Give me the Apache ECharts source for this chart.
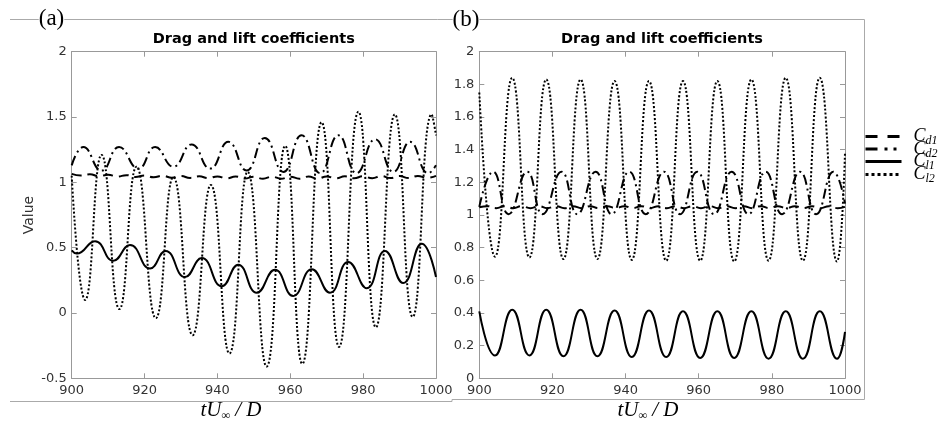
<!DOCTYPE html>
<html><head><meta charset="utf-8">
<script src="https://cdn.jsdelivr.net/npm/echarts@6/dist/echarts.min.js"></script>
<style>html,body{margin:0;padding:0;background:#fff}#c{width:939px;height:421px}</style>
</head><body><div id="c"></div>
<script>
// ---------- data ----------
const seriesNames = ['Cd1', 'Cd2', 'Cl1', 'Cl2'];
const xTicks = [900, 920, 940, 960, 980, 1000];

// panel (a)
const aCd1T = [900, 902.5, 905, 907.5, 910, 912.5, 915, 917.5, 920, 922.5, 925, 927.5, 930, 932.5, 935, 937.5, 940, 942.5, 945, 947.5, 950, 952.5, 955, 957.5, 960, 962.5, 965, 967.5, 970, 972.5, 975, 977.5, 980, 982.5, 985, 987.5, 990, 992.5, 995, 997.5, 1000];
const aCd1V = [1.065, 1.052, 1.062, 1.047, 1.058, 1.044, 1.055, 1.041, 1.052, 1.039, 1.05, 1.036, 1.048, 1.034, 1.046, 1.032, 1.045, 1.03, 1.044, 1.029, 1.043, 1.028, 1.043, 1.028, 1.043, 1.028, 1.044, 1.029, 1.045, 1.03, 1.046, 1.031, 1.047, 1.032, 1.048, 1.033, 1.048, 1.033, 1.049, 1.034, 1.049];
const aCd2T = [900, 903.2, 908.2, 913.0, 918.3, 922.9, 927.9, 932.9, 938.0, 943.0, 948.0, 953.0, 958.1, 963.1, 968.2, 973.2, 978.2, 983.3, 988.3, 992.9, 997.9, 1000];
const aCd2V = [1.13, 1.27, 1.09, 1.27, 1.105, 1.27, 1.12, 1.29, 1.105, 1.31, 1.09, 1.34, 1.08, 1.36, 1.07, 1.36, 1.07, 1.33, 1.08, 1.31, 1.07, 1.13];
const aCl1T = [900, 901.4, 906.4, 911.4, 916.0, 921.5, 925.8, 931.1, 935.7, 941.2, 945.7, 950.8, 955.8, 960.8, 965.9, 970.9, 975.9, 981.0, 986.0, 991.0, 996.1, 1000];
const aCl1V = [0.48, 0.455, 0.55, 0.40, 0.52, 0.34, 0.475, 0.275, 0.42, 0.205, 0.37, 0.155, 0.33, 0.13, 0.335, 0.155, 0.39, 0.19, 0.475, 0.23, 0.53, 0.275];
const aCl2T = [900, 903.7, 908.2, 913.1, 917.8, 923.1, 927.9, 933.2, 938.2, 943.3, 948.3, 953.5, 958.6, 963.3, 968.6, 973.4, 978.7, 983.5, 988.7, 993.6, 998.8, 1000];
const aCl2V = [1.05, 0.10, 1.21, 0.03, 1.12, -0.04, 1.04, -0.17, 0.98, -0.31, 1.08, -0.41, 1.28, -0.39, 1.46, -0.26, 1.54, -0.11, 1.52, -0.03, 1.52, 1.36];

// panel (b)
const bCd1T = [900, 902.3, 904.6, 907.0, 909.3, 911.6, 914.0, 916.3, 918.6, 921.0, 923.3, 925.6, 928.0, 930.3, 932.6, 935.0, 937.3, 939.6, 942.0, 944.3, 946.6, 949.0, 951.3, 953.6, 956.0, 958.3, 960.6, 963.0, 965.3, 967.6, 970.0, 972.3, 974.6, 977.0, 979.3, 981.6, 984.0, 986.3, 988.6, 991.0, 993.3, 995.6, 998.0, 1000];
const bCd1V = [1.048, 1.054, 1.042, 1.054, 1.042, 1.054, 1.042, 1.054, 1.042, 1.054, 1.042, 1.054, 1.042, 1.054, 1.042, 1.054, 1.042, 1.054, 1.042, 1.054, 1.042, 1.054, 1.042, 1.054, 1.042, 1.054, 1.042, 1.054, 1.042, 1.054, 1.042, 1.054, 1.042, 1.054, 1.042, 1.054, 1.042, 1.054, 1.042, 1.054, 1.042, 1.054, 1.042, 1.05];
const bCd2T = [900, 903.8, 908.0, 913.1, 917.3, 922.5, 926.8, 931.8, 936.2, 941.0, 945.5, 950.5, 954.9, 959.6, 964.2, 969.0, 973.6, 978.3, 982.8, 987.7, 992.1, 996.8, 1000];
const bCd2V = [1.05, 1.265, 1.005, 1.265, 1.005, 1.265, 1.005, 1.265, 1.005, 1.265, 1.005, 1.265, 1.005, 1.265, 1.005, 1.265, 1.005, 1.265, 1.005, 1.265, 1.005, 1.265, 1.07];
const bClT  = [900, 904.3, 909.0, 913.7, 918.3, 923.0, 927.7, 932.3, 937.0, 941.7, 946.4, 951.1, 955.7, 960.4, 965.1, 969.7, 974.4, 979.1, 983.8, 988.5, 993.1, 997.8, 1000];
const bCl1V = [0.41, 0.14, 0.42, 0.14, 0.42, 0.135, 0.42, 0.135, 0.415, 0.13, 0.415, 0.13, 0.41, 0.125, 0.41, 0.125, 0.41, 0.12, 0.41, 0.12, 0.41, 0.12, 0.285];
const bCl2V = [1.75, 0.745, 1.84, 0.74, 1.83, 0.73, 1.83, 0.73, 1.82, 0.725, 1.82, 0.72, 1.82, 0.72, 1.82, 0.715, 1.83, 0.72, 1.84, 0.72, 1.84, 0.715, 1.38];

// ---------- styles ----------
const zip = (t, v) => t.map((x, i) => [x, v[i]]);
const dashFor = {Cd1: [10, 6], Cd2: [10, 4, 2, 4], Cl1: 'solid', Cl2: [2, 2]};
const legendDash = {Cd1: [12, 10], Cd2: [12, 7, 3, 6, 3, 6], Cl1: 'solid', Cl2: [3, 3]};
const legendY = [134, 146.5, 159, 172];
const AX = '#999', LBL = '#333', FONT = 'DejaVu Sans';

function xAx(g, pos) {
  return {
    gridIndex: g, type: 'value', position: pos, min: 900, max: 1000, interval: 20,
    axisLine: {show: true, onZero: false, lineStyle: {color: AX, width: 1}},
    axisTick: {show: true, inside: true, length: 5, lineStyle: {color: AX}},
    axisLabel: {show: pos === 'bottom', margin: 6, fontSize: 13, color: LBL, fontFamily: FONT, formatter: v => String(v)},
    splitLine: {show: false}
  };
}
function yAx(g, pos, mn, mx, iv) {
  return {
    gridIndex: g, type: 'value', position: pos, min: mn, max: mx, interval: iv,
    axisLine: {show: true, onZero: false, lineStyle: {color: AX, width: 1}},
    axisTick: {show: true, inside: true, length: 5, lineStyle: {color: AX}},
    axisLabel: {show: pos === 'left', margin: 5, fontSize: 13, color: LBL, fontFamily: FONT, formatter: v => String(Math.round(v * 10) / 10)},
    splitLine: {show: false}
  };
}
function ser(name, data, xi, yi) {
  return {
    name, type: 'line', data, xAxisIndex: xi, yAxisIndex: yi,
    symbol: 'none', showSymbol: false, smooth: 0.5, silent: true,
    lineStyle: {color: '#000', width: 2, type: dashFor[name]},
    itemStyle: {color: '#000'}, animation: false
  };
}

const panelA = {Cd1: zip(aCd1T, aCd1V), Cd2: zip(aCd2T, aCd2V), Cl1: zip(aCl1T, aCl1V), Cl2: zip(aCl2T, aCl2V)};
const panelB = {Cd1: zip(bCd1T, bCd1V), Cd2: zip(bCd2T, bCd2V), Cl1: zip(bClT, bCl1V), Cl2: zip(bClT, bCl2V)};

const series = [];
seriesNames.forEach(n => series.push(ser(n, panelA[n], 0, 0)));
seriesNames.forEach(n => series.push(ser(n, panelB[n], 2, 2)));

const legends = seriesNames.map((n, i) => ({
  data: [n], orient: 'vertical', left: 864, top: legendY[i] - 8, padding: 0,
  itemWidth: 36, itemHeight: 16, selectedMode: false,
  itemStyle: {color: 'rgba(0,0,0,0)', borderWidth: 0, opacity: 0},
  lineStyle: {color: '#000', width: 3, type: legendDash[n], opacity: 1},
  formatter: name => '{c|C}{s|' + name.slice(1).toLowerCase().replace('c', '') + '}',
  textStyle: {
    color: '#000',
    rich: {
      c: {fontFamily: 'Liberation Serif', fontStyle: 'italic', fontSize: 18, color: '#000', padding: [0, 0, 0, 7], lineHeight: 16},
      s: {fontFamily: 'Liberation Serif', fontStyle: 'italic', fontSize: 12, color: '#000', padding: [9, 0, 0, 0], lineHeight: 16}
    }
  }
}));

const txt = (x, y, text, font, extra) => ({
  type: 'text', x, y, silent: true,
  style: Object.assign({text, font, fill: '#000', align: 'center', verticalAlign: 'middle'}, extra || {})
});
const xName = x => ({
  type: 'text', x, y: 410, silent: true,
  style: {
    text: '{i|tU}{s|∞}{i| / D}', align: 'center', verticalAlign: 'middle', fill: '#000',
    rich: {
      i: {fontFamily: 'Liberation Serif', fontStyle: 'italic', fontSize: 21, fill: '#000'},
      s: {fontFamily: 'Liberation Serif', fontStyle: 'italic', fontSize: 12, fill: '#000', padding: [12, 0, 0, 0]}
    }
  }
});
const ln = (x1, y1, x2, y2) => ({type: 'line', silent: true, shape: {x1, y1, x2, y2}, style: {stroke: '#aaa', lineWidth: 1}});

const option = {
  backgroundColor: '#fff',
  animation: false,
  textStyle: {fontFamily: FONT},
  grid: [
    {left: 71.7, top: 51.7, width: 364.3, height: 326.6, outerBoundsMode: 'none', containLabel: false},
    {left: 479.3, top: 51.7, width: 365.7, height: 326.6, outerBoundsMode: 'none', containLabel: false}
  ],
  xAxis: [xAx(0, 'bottom'), xAx(0, 'top'), xAx(1, 'bottom'), xAx(1, 'top')],
  yAxis: [yAx(0, 'left', -0.5, 2, 0.5), yAx(0, 'right', -0.5, 2, 0.5), yAx(1, 'left', 0, 2, 0.2), yAx(1, 'right', 0, 2, 0.2)],
  legend: legends,
  series,
  graphic: [
    ln(10, 19.5, 864.5, 19.5),
    ln(864.5, 19.5, 864.5, 399.5),
    ln(452, 399.5, 864.5, 399.5),
    ln(10, 401.5, 452, 401.5),
    ln(452, 399.5, 452, 401.5),
    txt(51.5, 19, '(a)', '23px "Liberation Serif"', {backgroundColor: '#fff'}),
    txt(466, 20, '(b)', '23px "Liberation Serif"', {backgroundColor: '#fff'}),
    txt(253.8, 39, 'Drag and lift coefficients', 'bold 14.5px "DejaVu Sans"'),
    txt(662, 39, 'Drag and lift coefficients', 'bold 14.5px "DejaVu Sans"'),
    Object.assign(txt(29, 215, 'Value', '14px "DejaVu Sans"', {fill: '#333'}), {rotation: Math.PI / 2}),
    xName(231),
    xName(648)
  ]
};

const chart = echarts.init(document.getElementById('c'), null, {renderer: 'canvas'});
chart.setOption(option);
</script>
</body></html>
